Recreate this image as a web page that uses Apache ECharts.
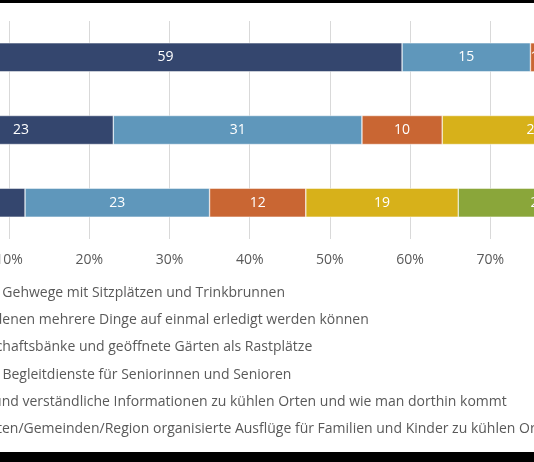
<!DOCTYPE html>
<html>
<head>
<meta charset="utf-8">
<script src="https://cdn.jsdelivr.net/npm/echarts@6/dist/echarts.min.js"></script>
<style>
  html, body { margin: 0; padding: 0; background: #000; overflow: hidden; }
  #chart { position: absolute; left: -84px; top: 3px; width: 1000px; height: 449px; background: #fff; }
</style>
</head>
<body>
<div id="chart"></div>
<script>
// categories (bars, top to bottom)
const categories = ["Gruppe A", "Gruppe B", "Gruppe C"];
// series name parts: hidden prefix (cut off at left) + visible rest
const namePrefix = ["Schattige ", "Orte, an d", "Gemeinsc", "Mehr ", "Klare u", "Von Städt"];
const nameRest = [
  "Gehwege mit Sitzplätzen und Trinkbrunnen",
  "enen mehrere Dinge auf einmal erledigt werden können",
  "haftsbänke und geöffnete Gärten als Rastplätze",
  "Begleitdienste für Seniorinnen und Senioren",
  "nd verständliche Informationen zu kühlen Orten und wie man dorthin kommt",
  "en/Gemeinden/Region organisierte Ausflüge für Familien und Kinder zu kühlen Orten"
];
const colors = ["#34466e", "#5f97bb", "#c96633", "#d7b11a", "#8aa63a", "#8c8c8c"];
// values per series, one per category
const s1 = [59, 15.5, 1, 12, 8, 4.5].slice(0, 0);
const v1 = [59, 23, 12];
const v2 = [16, 31, 23];
const v3 = [1, 10, 12];
const v4 = [11, 23, 19];
const v5 = [8, 8, 20];
const v6 = [5, 5, 14];
const labelValues = [[59, 23, 12], [15, 31, 23], [1, 10, 12], [11, 23, 19], [8, 8, 20], [5, 5, 14]];
const seriesValues = [v1, v2, v3, v4, v5, v6];

const font = '14px "Open Sans"';
const offset = 84; // the chart area is shifted left by this much
const ctx = document.createElement("canvas").getContext("2d");
ctx.font = font;

const chart = echarts.init(document.getElementById("chart"));
const names = namePrefix.map((p, i) => p + nameRest[i]);

chart.setOption({
  animation: false,
  grid: { left: 0, width: 815, top: 18, height: 218, containLabel: false },
  xAxis: {
    type: "value", min: 0, max: 100, interval: 10,
    axisLabel: { formatter: "{value}%", color: "#595959", fontSize: 14, fontFamily: "Open Sans", margin: 14 },
    splitLine: { lineStyle: { color: "#d9d9d9" } },
    axisLine: { show: false }, axisTick: { show: false }
  },
  yAxis: {
    type: "category", data: categories, inverse: true,
    axisLine: { show: false }, axisTick: { show: false }, axisLabel: { show: false }
  },
  series: seriesValues.map((vals, i) => ({
    name: names[i], type: "bar", stack: "all", barWidth: 29,
    data: vals,
    itemStyle: { color: colors[i], borderColor: "#fff", borderWidth: 0.5 },
    label: {
      show: true, color: "#fff", fontSize: 14, fontFamily: "Open Sans",
      formatter: (p) => String(labelValues[i][p.dataIndex])
    }
  })),
  graphic: names.map((n, i) => ({
    type: "text",
    left: offset - Math.round(ctx.measureText(namePrefix[i]).width) + 2,
    top: 283 + i * 27.2,
    style: { text: n, font: font, fill: "#595959" }
  }))
});
</script>
</body>
</html>
